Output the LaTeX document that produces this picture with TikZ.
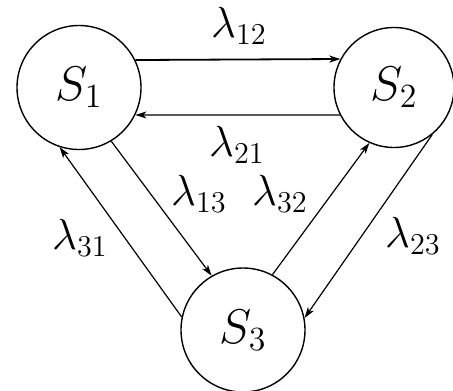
\documentclass[tikz,border=0pt]{standalone}
\usetikzlibrary{arrows.meta}
\newcommand{\bigS}[1]{\scalebox{2.35}{$S_{#1}$}}
\newcommand{\lam}[1]{\scalebox{2.1}{$\lambda_{#1}$}}
\begin{document}
\begin{tikzpicture}[x=1pt,y=-1pt,
  state/.style={circle,draw,line width=1.4pt,inner sep=0pt,font=\huge},
  rate/.style={font=\huge,inner sep=0pt},
  link/.style={line width=1.2pt,-{Stealth[length=11pt,width=7pt,inset=3pt]}}]
\useasboundingbox (0,0) rectangle (453,391);
\node[state,minimum size=124pt] (S1) at (79,87.5) {\bigS{1}};
\node[state,minimum size=120pt] (S2) at (394,87.5) {\bigS{2}};
\node[state,minimum size=124pt] (S3) at (243,330) {\bigS{3}};
\draw[link,line width=1.8pt] (S1.26.3) -- (S2.152.7);
\draw[link] (S2.207.3) -- (S1.-26.3);
\draw[link] (S1.-59) -- (S3.120);
\draw[link] (S3.168) -- (S1.252);
\draw[link] (S3.62) -- (S2.246);
\draw[link] (S2.-51) -- (S3.11);
\node[rate] (l12) at (239,26) {\lam{12}};
\node[rate] (l21) at (237,145) {\lam{21}};
\node[rate] (l13) at (199,194) {\lam{13}};
\node[rate] (l32) at (280,194) {\lam{32}};
\node[rate] (l31) at (80,238) {\lam{31}};
\node[rate] (l23) at (413,236) {\lam{23}};
\end{tikzpicture}
\end{document}
